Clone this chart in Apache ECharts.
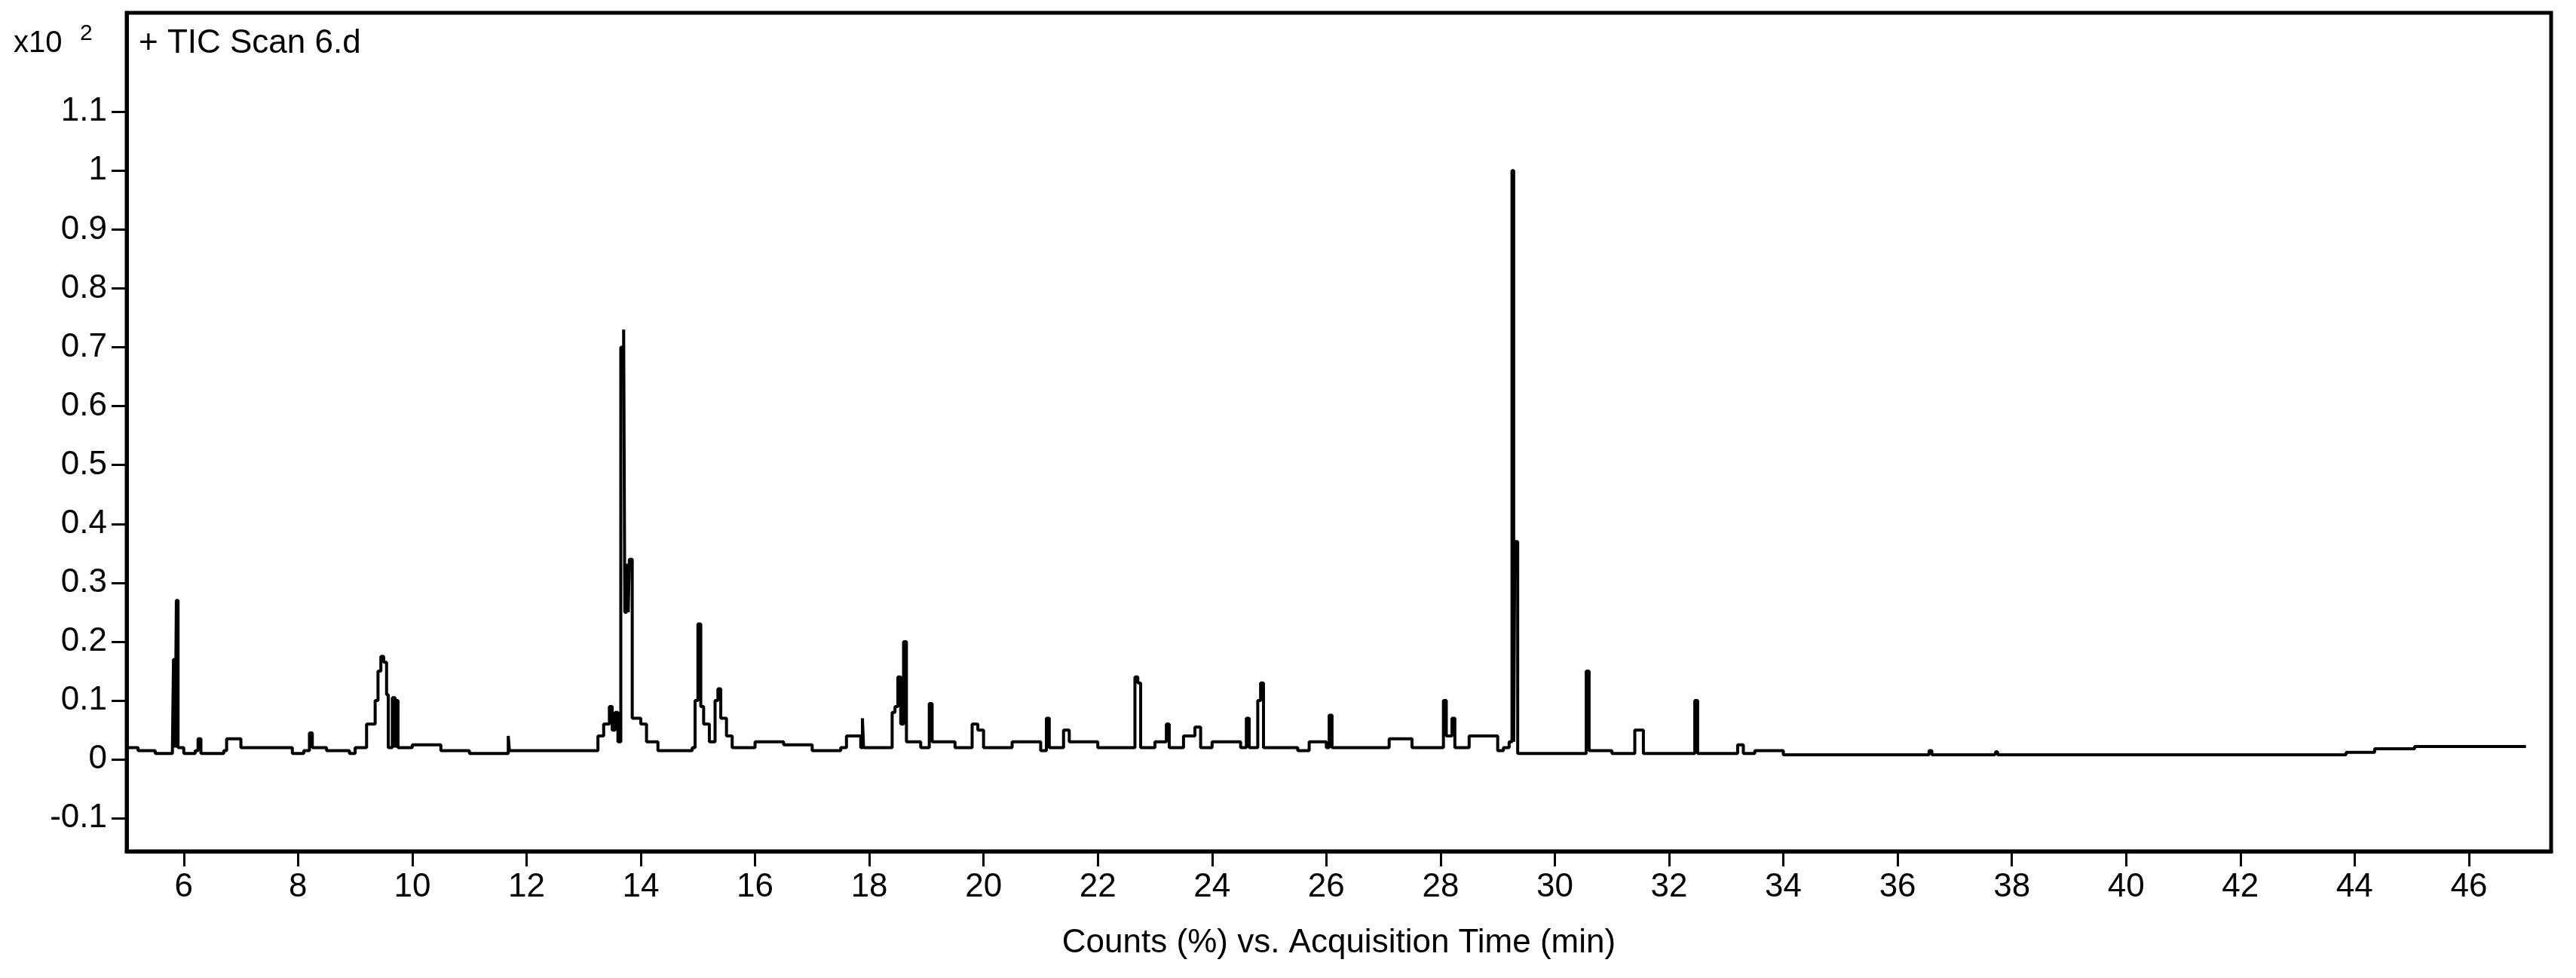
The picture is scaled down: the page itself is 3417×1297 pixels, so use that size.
<!DOCTYPE html>
<html>
<head>
<meta charset="utf-8">
<script src="https://cdn.jsdelivr.net/npm/echarts@6/dist/echarts.min.js"></script>
<style>
  html, body { margin: 0; padding: 0; background: #fff; }
  #chart { width: 3417px; height: 1297px; }
</style>
</head>
<body>
<div id="chart"></div>
<script>
// acquisition time (min) and counts (x10^2 %)
var times = [5.0, 5.2, 5.5, 5.8, 5.82, 5.85, 5.87, 5.9, 6.0, 6.2, 6.25, 6.3, 6.7, 6.75, 6.9, 7.0, 7.5, 7.9, 8.1, 8.2, 8.25, 8.5, 8.9, 9.0, 9.2, 9.35, 9.4, 9.45, 9.5, 9.55, 9.58, 9.65, 9.7, 9.72, 9.75, 10.0, 10.5, 11.0, 11.5, 11.65, 11.68, 11.7, 12.5, 13.2, 13.25, 13.35, 13.45, 13.5, 13.55, 13.6, 13.65, 13.7, 13.72, 13.75, 13.78, 13.8, 13.85, 14.0, 14.1, 14.3, 14.9, 14.95, 15.0, 15.05, 15.1, 15.2, 15.3, 15.35, 15.4, 15.5, 15.6, 16.0, 16.5, 17.0, 17.5, 17.6, 17.85, 17.88, 17.9, 18.3, 18.4, 18.45, 18.5, 18.55, 18.6, 18.65, 18.9, 19.05, 19.1, 19.5, 19.8, 19.9, 20.0, 20.5, 21.0, 21.1, 21.15, 21.4, 21.5, 21.8, 22.0, 22.6, 22.65, 22.7, 22.75, 23.0, 23.2, 23.25, 23.5, 23.7, 23.8, 24.0, 24.5, 24.6, 24.65, 24.8, 24.85, 24.9, 25.5, 25.7, 26.0, 26.05, 26.1, 26.5, 27.1, 27.5, 28.0, 28.05, 28.1, 28.2, 28.25, 28.5, 28.7, 29.0, 29.1, 29.2, 29.25, 29.28, 29.3, 29.35, 30.0, 30.5, 30.55, 30.6, 31.0, 31.4, 31.5, 31.55, 32.4, 32.45, 32.5, 33.0, 33.2, 33.3, 33.5, 34.0, 36.5, 36.55, 36.6, 37.7, 37.72, 37.75, 43.8, 43.85, 44.3, 44.35, 45.0, 45.05, 47.0];
var counts = [0.02, 0.015, 0.01, 0.01, 0.17, 0.02, 0.27, 0.02, 0.01, 0.015, 0.035, 0.01, 0.015, 0.035, 0.035, 0.02, 0.02, 0.01, 0.015, 0.045, 0.02, 0.015, 0.01, 0.02, 0.06, 0.1, 0.15, 0.175, 0.165, 0.11, 0.02, 0.105, 0.02, 0.1, 0.02, 0.025, 0.015, 0.01, 0.01, 0.01, 0.04, 0.015, 0.015, 0.015, 0.04, 0.06, 0.09, 0.05, 0.08, 0.03, 0.7, 0.73, 0.25, 0.33, 0.25, 0.34, 0.07, 0.06, 0.03, 0.015, 0.02, 0.1, 0.23, 0.09, 0.06, 0.03, 0.1, 0.12, 0.07, 0.04, 0.02, 0.03, 0.025, 0.015, 0.02, 0.04, 0.02, 0.07, 0.02, 0.02, 0.08, 0.09, 0.14, 0.06, 0.2, 0.03, 0.02, 0.095, 0.03, 0.02, 0.06, 0.05, 0.02, 0.03, 0.015, 0.07, 0.02, 0.05, 0.03, 0.03, 0.02, 0.02, 0.14, 0.13, 0.02, 0.03, 0.06, 0.02, 0.04, 0.055, 0.02, 0.03, 0.02, 0.07, 0.02, 0.1, 0.13, 0.02, 0.015, 0.03, 0.02, 0.075, 0.02, 0.02, 0.035, 0.02, 0.02, 0.1, 0.04, 0.07, 0.02, 0.04, 0.04, 0.015, 0.02, 0.03, 1.0, 0.03, 0.37, 0.01, 0.01, 0.01, 0.15, 0.015, 0.01, 0.05, 0.05, 0.01, 0.01, 0.1, 0.01, 0.01, 0.025, 0.01, 0.015, 0.008, 0.008, 0.015, 0.008, 0.008, 0.013, 0.008, 0.008, 0.012, 0.012, 0.018, 0.018, 0.022, 0.022];
var xTicks = [6, 8, 10, 12, 14, 16, 18, 20, 22, 24, 26, 28, 30, 32, 34, 36, 38, 40, 42, 44, 46];
var yTicks = [-0.1, 0, 0.1, 0.2, 0.3, 0.4, 0.5, 0.6, 0.7, 0.8, 0.9, 1, 1.1];

var chart = echarts.init(document.getElementById('chart'))
var font = 'Liberation Sans, Arial, sans-serif'

chart.setOption({
  animation: false,
  backgroundColor: '#fff',
  textStyle: { fontFamily: font },
  grid: { left: 168, right: 33, top: 17, bottom: 168, show: true, borderColor: '#000', borderWidth: 5 },
  graphic: [
    { type: 'text', left: 18, top: 38, style: { text: 'x10', fontSize: 40, fill: '#000', fontFamily: font } },
    { type: 'text', left: 106, top: 30, style: { text: '2', fontSize: 30, fill: '#000', fontFamily: font } },
    { type: 'text', left: 184, top: 36, style: { text: '+ TIC Scan 6.d', fontSize: 44, fill: '#000', fontFamily: font } }
  ],
  xAxis: {
    type: 'value', min: 5, max: 47.44,
    name: 'Counts (%) vs. Acquisition Time (min)', nameLocation: 'middle', nameGap: 100,
    nameTextStyle: { fontSize: 44, color: '#000' },
    axisLine: { onZero: false, lineStyle: { color: '#000', width: 5 } },
    axisTick: { length: 20, customValues: xTicks, lineStyle: { color: '#000', width: 3 } },
    axisLabel: { fontSize: 44, color: '#000', margin: 26, customValues: xTicks },
    splitLine: { show: false }
  },
  yAxis: {
    type: 'value', min: -0.156, max: 1.268,
    axisLine: { show: true, onZero: false, lineStyle: { color: '#000', width: 5 } },
    axisTick: { show: true, length: 20, customValues: yTicks, lineStyle: { color: '#000', width: 3 } },
    axisLabel: { fontSize: 44, color: '#000', margin: 26, customValues: yTicks },
    splitLine: { show: false }
  },
  series: [{
    type: 'line', showSymbol: false, step: 'end',
    data: times.map(function (t, i) { return [t, counts[i]] }),
    lineStyle: { color: '#000', width: 4 }
  }]
})
</script>
</body>
</html>
